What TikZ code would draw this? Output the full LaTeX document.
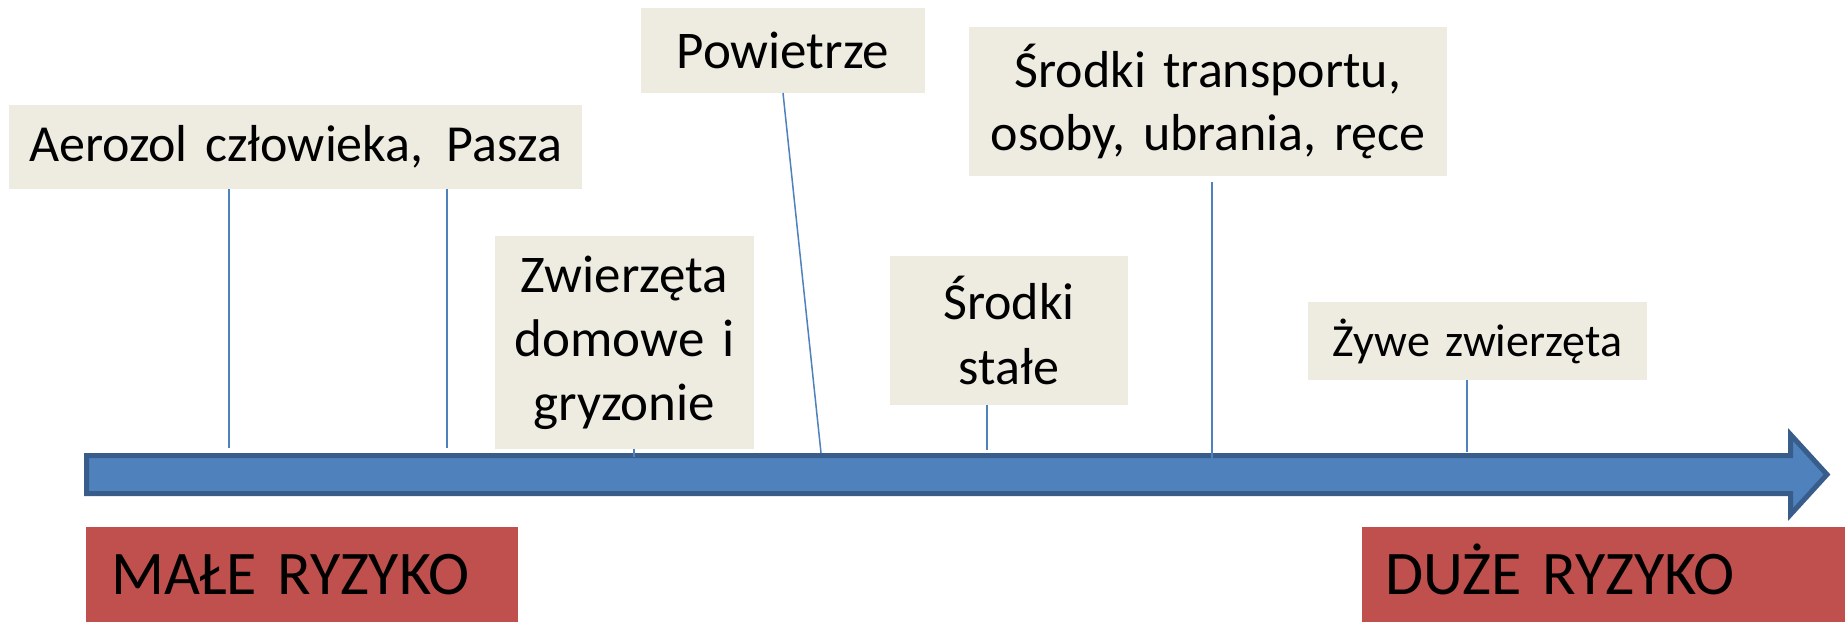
\documentclass[tikz,border=0pt]{standalone}
\usepackage{fontspec}
\setmainfont{Carlito}
\begin{document}
\begin{tikzpicture}[x=0.5pt,y=-0.5pt]
\definecolor{boxColor}{HTML}{EEECE1}
\definecolor{arrowFill}{HTML}{4F81BD}
\definecolor{arrowDraw}{HTML}{385D8A}
\definecolor{riskFill}{HTML}{C0504D}
\definecolor{lineColor}{HTML}{4F81BD}
\tikzset{
  srcbox/.style={fill=boxColor,inner sep=0pt,outer sep=0pt,align=center,text=black},
  riskbox/.style={fill=riskFill,inner ysep=0pt,outer sep=0pt,align=left,text=black,
    anchor=north west,minimum height=47.5pt,text height=20pt,text depth=0pt,
    font=\fontsize{31}{37}\selectfont},
  link/.style={draw=lineColor,line width=0.75pt}
}
\path[use as bounding box,fill=white] (0,0) rectangle (1845,622);

\path[draw=arrowDraw,fill=arrowFill,line width=2.5pt,line join=miter] (86.5,455.5) --
	(1790.5,455.5) -- (1790.5,434.5) -- (1827,474.5) -- (1790.5,514.5) --
	(1790.5,493.5) -- (86.5,493.5) -- cycle;

\node[srcbox,text width=286.5pt,minimum height=42pt,font=\fontsize{26}{32}\selectfont] (aer) at (295.5,147) {Aerozol człowieka, \hspace{3pt}Pasza};
\node[srcbox,text width=142pt,minimum height=42.5pt,font=\fontsize{26.5}{32}\selectfont] (pow) at (783,50.5) {Powietrze};
\node[srcbox,text width=129.5pt,minimum height=106.5pt,font=\fontsize{26.5}{32}\selectfont] (zwi) at (624.5,342.5) {Zwierzęta\\domowe i\\gryzonie};
\node[srcbox,text width=239pt,minimum height=74.5pt,font=\fontsize{26}{31.5}\selectfont] (tra) at (1208,101.5) {Środki transportu,\\osoby, ubrania, ręce};
\node[srcbox,text width=119pt,minimum height=74.5pt,font=\fontsize{26}{32.5}\selectfont] (sta) at (1009,330.5) {Środki\\stałe};
\node[srcbox,text width=169.5pt,minimum height=39pt,font=\fontsize{23}{27}\selectfont] (zyw) at (1477.5,341) {Żywe zwierzęta};

\node[riskbox,inner xsep=12.5pt,text width=191pt] (male) at (86,527) {MAŁE RYZYKO};
\node[riskbox,inner xsep=11.5pt,text width=218.5pt] (duze) at (1362,527) {DUŻE RYZYKO};

\coordinate (a1) at (229,448);
\coordinate (a2) at (447,448);
\coordinate (p1) at (821,453);
\coordinate (z1) at (634,457);
\coordinate (t1) at (1212,467);
\coordinate (s1) at (987,450);
\coordinate (w1) at (1467,452);

\draw[link] (aer.south -| a1) -- (a1);
\draw[link] (aer.south -| a2) -- (a2);
\draw[link] (pow.south) -- (p1);
\draw[link] (zwi.south -| z1) -- (z1);
\draw[link,shorten <=3pt] (tra.south -| t1) -- (t1);
\draw[link] (sta.south -| s1) -- (s1);
\draw[link] (zyw.south -| w1) -- (w1);
\end{tikzpicture}
\end{document}
